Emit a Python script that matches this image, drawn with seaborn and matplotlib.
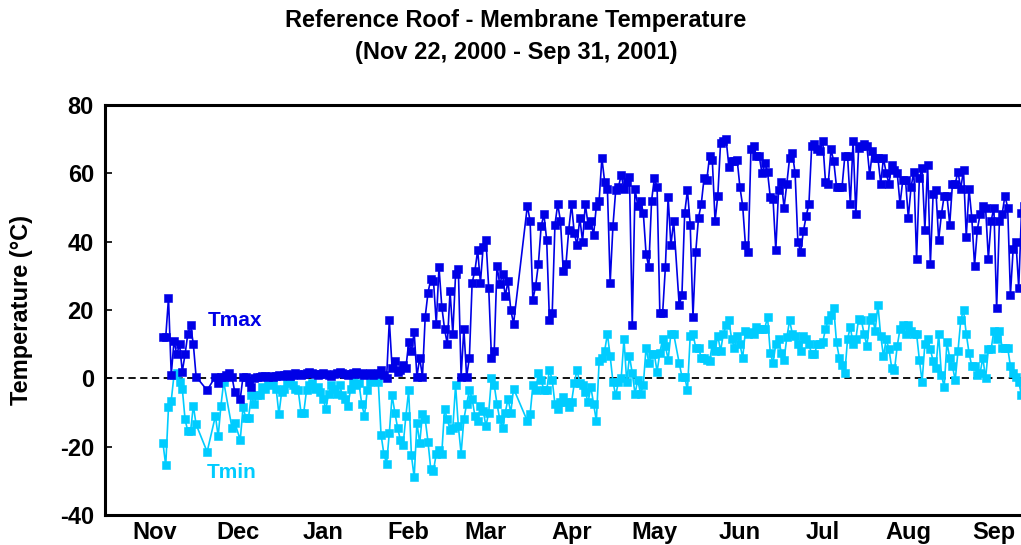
import pandas as pd
import numpy as np
import matplotlib
matplotlib.use('Agg')
import matplotlib.pyplot as plt
import seaborn as sns

# Valores diarios (None = dia sin dato)
nov_tmax = [12, 12, 23.5, 1, 11, 7, 10, 2, 7]
nov_tmin = [-19, -25.5, -8.5, -6.5, 1, 1.5, -1, -3, -12]

dec_tmax = [13, 15.5, 10, 0.5, None, None, None, -3.5, None, None, 0.5, -1.5, 0.5, 0.5, 1, 1.7,
            0.5, -4, None, -6, 0.5, 0.5, -1, -2.5, 0, 0.5, 0.5, 0.8, 0.8, 0.5, 0.8]
dec_tmin = [-15.5, -15.5, -8, -13.5, None, None, None, -21.5, None, None, -11, -17, -8, -1, None, None,
            -14.5, -13, None, -18, -8.5, -11.5, -11.5, -5, -7.5, -5, -5, -2.5, -3, -1.5, -2]

jan_tmax = [0.5, 0.8, 1, 0.8, 1, 1.2, 0.8, 1, 1.5, 1.2, 1, 1.2, 1.5, 1.8, 1.5, 1.2, 1, 1.2, 1.5, 1.2,
            1, 0.8, 1.2, 1.5, 1.8, 1.5, 1.2, 1, 1.2, 1.5, 1.8]
jan_tmin = [-1, -3, -10.5, -4, -3, -1.5, -1, -2, -3, -3.5, -10, -10, -3.5, -2, -1.5, -3, -2.5, -4, -6, -9,
            -4.5, -2, -3, -4.5, -2, -5, -6, -8, -3, -1, -2]

feb_tmax = [1.2, 1.5, 1, 1.2, 1.5, 1, 1.2, 1.5, 2.5, 1, 0, 17, 3, 5, 2, 2.5, 4, 3, 10.5, 8,
            13.5, 0.5, 6, 0.5, 18, 25, 29, 28.5]
feb_tmin = [-1.5, -7.5, -11, -3.5, -1, -0.5, 0, -1, -16.5, -22, -25, -16, -5, -10, -14.5, -18, -19.5, -11,
            -3.5, -22.5, -29, -13, -19, -10.5, -12, -18.5, -26.5, -27]

mar_tmax = [16, 32.5, 21, 14.5, 10, 25.5, 13, 30.5, 32, 0.5, 14.5, 0.5, 6, 28, 31.5, 37.5, 28, 38.5, 40.5,
            26.5, 6, 8, 33, 27.5, 30.5, 24, 28.5, 20, 16, None, None]
mar_tmin = [-22, -21, -22, -9, -12, -15, -14.5, -2, -14, -22, -12, -7.5, -3.5, -6, -11, -12.5, -8, -9.5, -14,
            -10, 0, -2, -7.5, -12, -14.5, -10, -6, -10, -3, None, None]

apr_tmax = [None, None, 50.5, 46, 23, 27, 33.5, 44.5, 48, 40.5, 17, 19, 45, 51, 46, 31.5, 33.5, 43.5, 51,
            42.5, 39, 47, 40, 51, 45, 46, 42, 50.5, 52, 64.5]
apr_tmin = [None, None, -12.5, -10.5, -2, -3.5, 1.5, -0.5, -3.5, -3.5, 2.5, -0.5, -7.5, -9, -7, -5.5, -7,
            -8.5, -7, -1.5, 2.5, -1.5, -2, -4, -7, -2.5, -7.5, -12.5, 5, 6]

may_tmax = [57.5, 55.5, 28, 44.5, 55, 56, 59.5, 55.5, 57.5, 59, 15.5, 55.5, 50.5, 52, 48.5, 36.5, 32.5, 52,
            58.5, 56, 19, 19, 32.5, 53, 39, 46, None, 21.5, 24.5, 48.5, 55]
may_tmin = [8, 13, 6.5, -1, -5, -1, 0, 11.5, -1, 6.5, 1.5, -4.5, -0.5, -4.5, -2, 9, 4.5, 7, 7, 2,
            7.5, 11.5, 9.5, 5.5, 13, 13, None, 4.5, 0.5, 0.5, -3.5]

jun_tmax = [45, 18, 37, 47, 51, 58.5, 58, 65, 64, 46, 53.5, 69, 69.5, 70, 62, 63.5, 63.5, 64, 56, 50.5,
            39, 37, 67, 68, 65, 65, 60, 63, 60.5, 53]
jun_tmin = [12.5, 13, 9, 9, 6, 6, 5.5, 5, 10, 8, 12.5, 8, 13, 15.5, 17, 11.5, 9, 12.5, 10, 6,
            14, 13, 13.5, 13, 15, 14.5, 14.5, 14.5, 18, 7.5]

jul_tmax = [52.5, 37.5, 55, 57.5, 50, 57, 64.5, 66, 60, 40, 37, 43, 47.5, 51, 68, 68.5, 67, 66.5, 69.5, 57.5,
            57, 67, 63.5, 56, 56, 56, 65, 65, 51, 69.5, 48]
jul_tmin = [4.5, 10, 11.5, 7.5, 5.5, 12, 17, 13, 12.5, 10, 8, 12.5, 11.5, 10, 7, 7, 10, 10, 10.5, 14.5,
            17, 18.5, 20.5, 10.5, 6, 4, 1.5, 11.5, 15, 10, 11.5]

aug_tmax = [67.5, 68, 68.5, 68, 59.5, 66.5, 64.5, 64.5, 57, 64.5, 60, 57, 62.5, 61, 60, 51, 58, 58, 47, 56,
            60.5, 35, 58.5, 61.5, 43.5, 62.5, 33.5, 54, 55, 40.5, 48]
aug_tmin = [17.5, 17, 13, 9.5, 17, 18, 14, 21.5, 12.5, 6.5, 11.5, 8.5, 3, 2.5, 9.5, 14.5, 15.5, 13, 15.5, 14,
            13, 13, 5.5, -1, 10, 11.5, 8.5, 5, 3, 13, 1]

sep_tmax = [53.5, 53.5, 45, 57, 57, 60.5, 55.5, 61, 41.5, 55.5, 47, 33, 43.5, 48, 50.5, 50, 35, 46, 50, 20.5,
            46, 48, 53.5, 50, 24.5, 38, 40, 26.5, 48.5, 50.5]
sep_tmin = [-2.5, 10.5, 6, 3.5, -0.5, 8, 17, 20, 13, 7.5, 3.5, 3.5, 1, 1.5, 6, 0, 8.5, 8.5, 14, 11.5,
            14, 9, 9, 9, 3.5, 1.5, 0.5, -1, -5, -3]

meses = ['Nov', 'Dec', 'Jan', 'Feb', 'Mar', 'Apr', 'May', 'Jun', 'Jul', 'Aug', 'Sep']
yticks = [-40, -20, 0, 20, 40, 60, 80]

azul = '#0000E6'
celeste = '#00CCFF'

tmax = (nov_tmax + dec_tmax + jan_tmax + feb_tmax + mar_tmax + apr_tmax + may_tmax
        + jun_tmax + jul_tmax + aug_tmax + sep_tmax)
tmin = (nov_tmin + dec_tmin + jan_tmin + feb_tmin + mar_tmin + apr_tmin + may_tmin
        + jun_tmin + jul_tmin + aug_tmin + sep_tmin)
fechas = pd.date_range('2000-11-22', '2001-09-30', freq='D')
df = pd.DataFrame({'fecha': fechas,
                   'Tmax': pd.to_numeric(pd.Series(tmax, dtype=object), errors='coerce').values,
                   'Tmin': pd.to_numeric(pd.Series(tmin, dtype=object), errors='coerce').values})

sns.set_theme(style='white')
plt.rcParams['font.family'] = ['Liberation Sans', 'DejaVu Sans']
plt.rcParams['font.weight'] = 'bold'
plt.rcParams['text.color'] = 'black'

fig = plt.figure(figsize=(10.21, 5.45), dpi=100)
ax = fig.add_axes([105 / 1021, 30 / 545, (1027 - 105) / 1021, 410 / 545])

ax.axhline(0, color='black', linestyle='--', linewidth=1.3, dashes=(4, 2.5), zorder=1)

for col, color in [('Tmin', celeste), ('Tmax', azul)]:
    d = df[['fecha', col]].dropna()
    sns.lineplot(data=d, x='fecha', y=col, ax=ax, color=color, marker='s', markersize=5.5,
                 markeredgewidth=0.4, markeredgecolor=color, linewidth=1.2,
                 estimator=None, legend=False, zorder=3)

ax.set_xlim(pd.Timestamp('2000-11-01'), pd.Timestamp('2001-10-01'))
ax.set_ylim(-40, 80)
ax.set_yticks(yticks)
ax.set_yticklabels([str(v) for v in yticks])

# ticks en el inicio de cada mes, nombre del mes centrado en su tramo
inicios = pd.date_range('2000-12-01', '2001-09-01', freq='MS')
centros = pd.date_range('2000-11-01', '2001-09-01', freq='MS') + pd.Timedelta(days=18)
ax.set_xticks(inicios)
ax.set_xticklabels([])
ax.set_xticks(centros, minor=True)
ax.set_xticklabels(meses, minor=True)

ax.tick_params(axis='x', which='major', direction='in', length=5, width=1.2, color='black')
ax.tick_params(axis='x', which='minor', length=0, labelsize=17, pad=4, colors='black')
ax.tick_params(axis='y', direction='in', length=5, width=1.2, labelsize=17, pad=8,
               color='black', labelcolor='black', left=True)
for lab in ax.get_xticklabels(minor=True) + ax.get_yticklabels():
    lab.set_fontweight('bold')

for s in ax.spines.values():
    s.set_linewidth(2.2)
    s.set_color('black')

ax.set_xlabel('')
ax.set_ylabel('Temperature (°C)', fontsize=17, fontweight='bold', color='black')
ax.yaxis.set_label_coords((33 - 105) / 922, 0.5)

ax.text(pd.Timestamp('2000-12-18'), 17, 'Tmax', color=azul, fontsize=15, fontweight='bold',
        ha='center', va='center')
ax.text(pd.Timestamp('2000-12-17'), -27.5, 'Tmin', color=celeste, fontsize=15, fontweight='bold',
        ha='center', va='center')

fig.text(516 / 1021, 1 - 20 / 545, 'Reference Roof - Membrane Temperature', ha='center', va='center',
         fontsize=17, fontweight='bold', color='black')
fig.text(516 / 1021, 1 - 52 / 545, '(Nov 22, 2000 - Sep 31, 2001)', ha='center', va='center',
         fontsize=17, fontweight='bold', color='black')

fig.savefig('out.png', dpi=100)
plt.close(fig)
